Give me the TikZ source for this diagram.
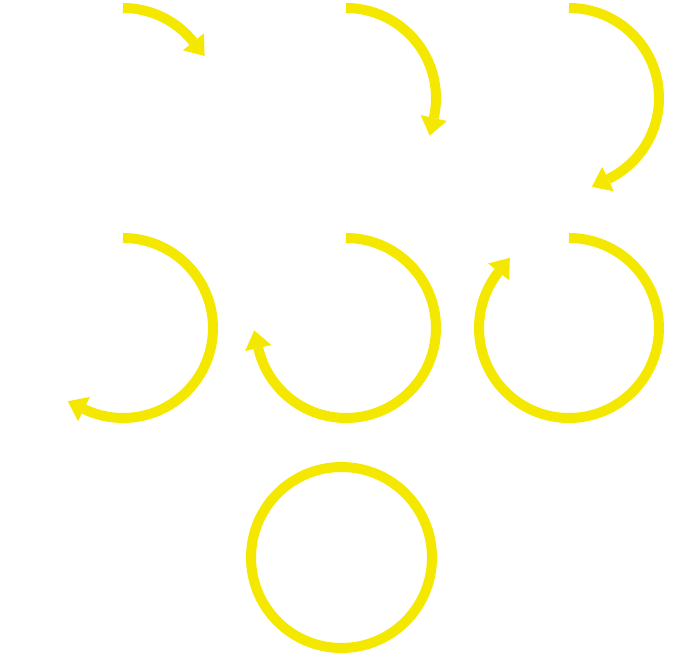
\documentclass[tikz,border=0pt]{standalone}
\usetikzlibrary{calc}
\definecolor{ringyellow}{RGB}{245,232,0}
\begin{document}
\begin{tikzpicture}[x=1pt,y=1pt,
  ring/.style={draw=ringyellow,line width=10pt,line cap=butt},
  head/.style={fill=ringyellow,draw=none}]
\useasboundingbox (0,0) rectangle (675,657);
\coordinate (c1) at (123,559);
\coordinate (c2) at (346,559);
\coordinate (c3) at (569,559);
\coordinate (c4) at (123,329);
\coordinate (c5) at (346,329);
\coordinate (c6) at (569,329);
\coordinate (c7) at (341.5,99.5);
\foreach \k in {1,...,6}{
  \pgfmathsetmacro{\e}{90-360*\k/7}
  \draw[ring] (c\k) ++(90:90) arc[start angle=90,end angle=\e,radius=90];
  \fill[head] ($(c\k)+(\e:76.5)$) -- ($(c\k)+(\e:103.5)$) -- ($(c\k)+(\e:90)+(\e-90:18)$) -- cycle;
}
\draw[ring] (c7) circle[radius=90.5];
\end{tikzpicture}
\end{document}
